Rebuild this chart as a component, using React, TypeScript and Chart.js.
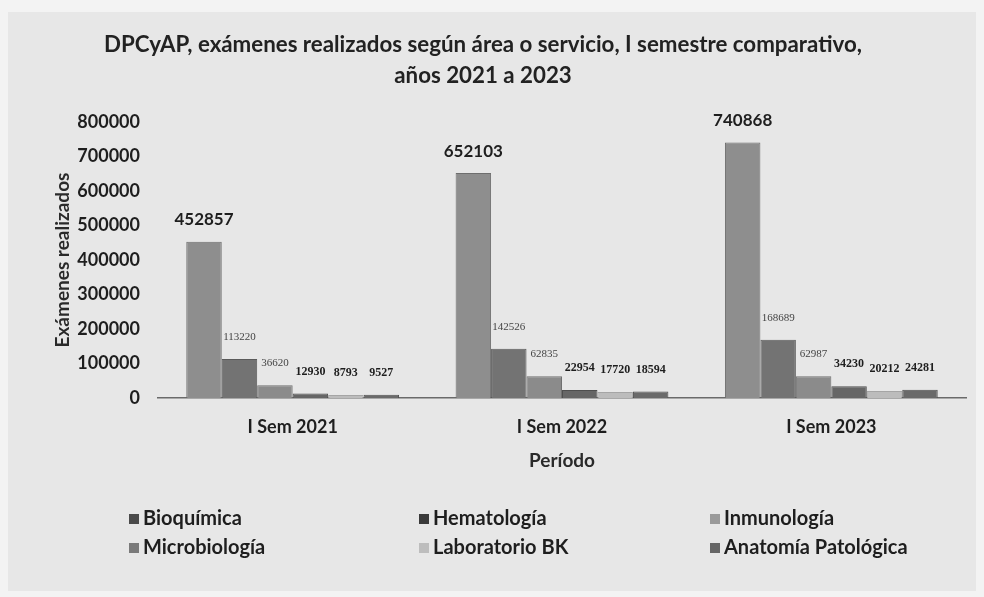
import React, { useEffect, useRef } from "react";
import { Chart, registerables } from "chart.js";

Chart.register(...registerables);

// ---- data ----
const categories = ["I Sem 2021", "I Sem 2022", "I Sem 2023"];
const seriesNames = [
  "Bioquímica",
  "Hematología",
  "Inmunología",
  "Microbiología",
  "Laboratorio BK",
  "Anatomía Patológica",
];
const bioquimica = [452857, 652103, 740868];
const hematologia = [113220, 142526, 168689];
const inmunologia = [36620, 62835, 62987];
const microbiologia = [12930, 22954, 34230];
const laboratorioBK = [8793, 17720, 20212];
const anatomiaPatologica = [9527, 18594, 24281];
const yTickValues = [0, 100000, 200000, 300000, 400000, 500000, 600000, 700000, 800000];
const titleLines = [
  "DPCyAP, exámenes realizados según área o servicio, I semestre comparativo,",
  "años 2021 a 2023",
];
const yAxisTitle = "Exámenes realizados";
const xAxisTitle = "Período";

// ---- styles ----
const barColors = ["#8e8e8e", "#737373", "#8b8b8b", "#666666", "#bcbcbc", "#6a6a6a"];
const barBorders = ["#6e6e6e", "#5a5a5a", "#707070", "#4e4e4e", "#a5a5a5", "#505050"];
const legendColors = ["#4a4a4a", "#3a3a3a", "#9a9a9a", "#7a7a7a", "#bdbdbd", "#666666"];
const FONT = "Lato, 'Open Sans', sans-serif";

const valueLabelPlugin = {
  id: "valueLabels",
  afterDatasetsDraw(chart: any) {
    const ctx = chart.ctx;
    chart.data.datasets.forEach((ds: any, i: number) => {
      const meta = chart.getDatasetMeta(i);
      meta.data.forEach((bar: any, j: number) => {
        const v = ds.data[j];
        ctx.save();
        if (i === 0) ctx.font = `bold 17px ${FONT}`;
        else if (i < 3) ctx.font = `11px "Liberation Serif", serif`;
        else ctx.font = `bold 12px "Liberation Serif", serif`;
        ctx.fillStyle = i === 0 ? "#1e1e1e" : i < 3 ? "#444" : "#1e1e1e";
        ctx.textAlign = "center";
        ctx.textBaseline = "middle";
        ctx.fillText(String(v), bar.x, bar.y - 22);
        ctx.restore();
      });
    });
  },
};

const gridLegendPlugin = {
  id: "gridLegend",
  afterDraw(chart: any) {
    const ctx = chart.ctx;
    const colX = [129, 419, 710];
    const rowY = [519, 548];
    chart.data.datasets.forEach((ds: any, i: number) => {
      const x = colX[i % 3];
      const y = rowY[Math.floor(i / 3)];
      ctx.save();
      ctx.fillStyle = legendColors[i];
      ctx.fillRect(x, y - 5, 10, 10);
      ctx.font = `bold 20px ${FONT}`;
      ctx.fillStyle = "#1e1e1e";
      ctx.textAlign = "left";
      ctx.textBaseline = "middle";
      ctx.fillText(ds.label, x + 14, y);
      ctx.restore();
    });
  },
};

export default function App() {
  const canvasRef = useRef<HTMLCanvasElement | null>(null);

  useEffect(() => {
    const seriesData = [
      bioquimica,
      hematologia,
      inmunologia,
      microbiologia,
      laboratorioBK,
      anatomiaPatologica,
    ];
    const chart = new Chart(canvasRef.current as HTMLCanvasElement, {
      type: "bar",
      data: {
        labels: categories,
        datasets: seriesNames.map((name, i) => ({
          label: name,
          data: seriesData[i],
          backgroundColor: barColors[i],
          borderColor: barBorders[i],
          borderWidth: 1,
          categoryPercentage: 0.79,
          barPercentage: 1,
        })),
      },
      options: {
        responsive: false,
        animation: false,
        layout: { padding: { left: 0, right: 18, top: 0, bottom: 110 } },
        plugins: {
          legend: { display: false },
          tooltip: { enabled: false },
          title: {
            display: true,
            text: titleLines,
            color: "#222",
            font: { family: FONT, size: 22.3, weight: "bold", lineHeight: 1.37 },
            padding: { top: 30, bottom: 31 },
          },
        },
        scales: {
          x: {
            grid: { display: false, drawTicks: false },
            border: { display: true, color: "#6a6a6a", width: 1.5 },
            ticks: {
              color: "#1e1e1e",
              font: { family: FONT, size: 18, weight: "bold" },
              padding: 18,
            },
            title: {
              display: true,
              text: xAxisTitle,
              color: "#2a2a2a",
              font: { family: FONT, size: 19, weight: "bold", lineHeight: 1.2 },
              padding: { top: 0, bottom: 15 },
            },
            afterFit(scale: any) {
              scale.height = 89;
            },
          },
          y: {
            min: 0,
            max: 800000,
            grid: { display: false, drawTicks: false },
            border: { display: false },
            afterBuildTicks(scale: any) {
              scale.ticks = yTickValues.map((v) => ({ value: v }));
            },
            ticks: {
              color: "#1e1e1e",
              font: { family: FONT, size: 18, weight: "bold" },
              padding: 18,
              callback: (v: any) => String(v),
            },
            title: {
              display: true,
              text: yAxisTitle,
              color: "#2a2a2a",
              font: { family: FONT, size: 19, weight: "bold", lineHeight: 1.2 },
              padding: { top: 51, bottom: 0 },
            },
            afterFit(scale: any) {
              scale.width = 158;
            },
          },
        },
      },
      plugins: [valueLabelPlugin, gridLegendPlugin],
    } as any);
    return () => chart.destroy();
  }, []);

  return (
    <div
      style={{
        position: "fixed",
        left: 0,
        top: 0,
        width: 984,
        height: 597,
        background: "#f3f3f3",
        overflow: "hidden",
      }}
    >
      <div
        style={{
          position: "absolute",
          left: 8,
          top: 12,
          right: 8,
          bottom: 6,
          background: "#e7e7e7",
        }}
      />
      <canvas
        ref={canvasRef}
        width={984}
        height={597}
        style={{ position: "absolute", left: 0, top: 0, width: 984, height: 597 }}
      />
    </div>
  );
}
